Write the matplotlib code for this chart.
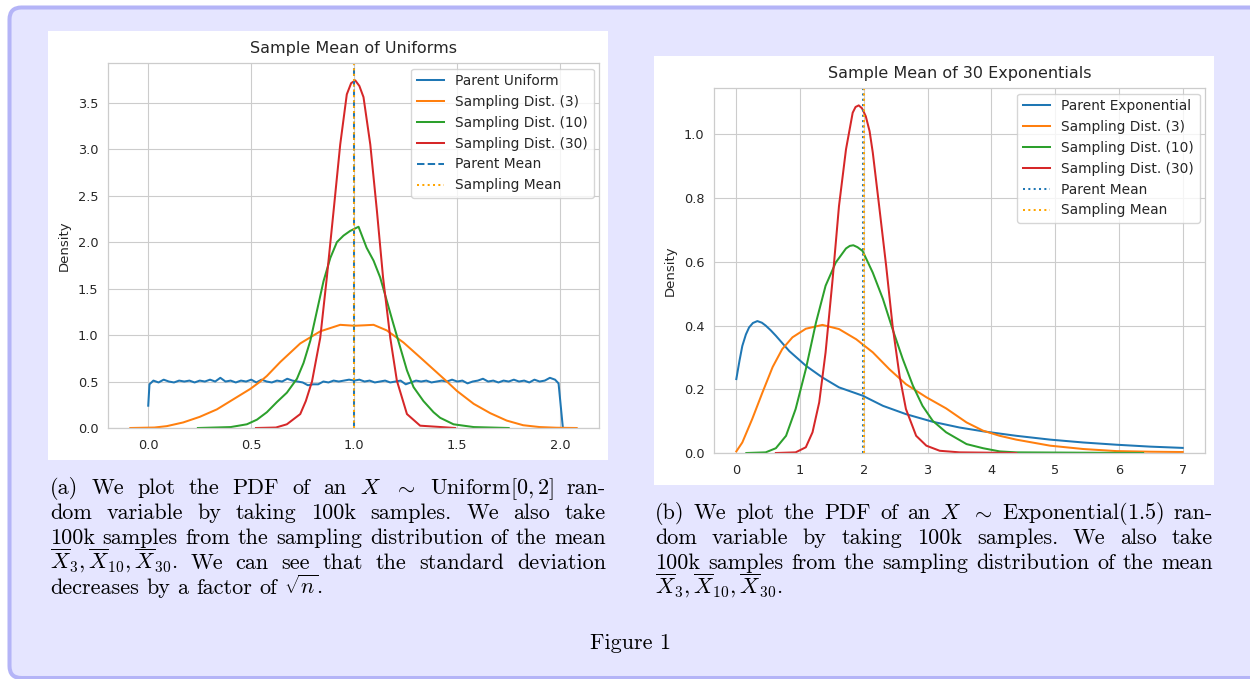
import matplotlib.pyplot as plt
from matplotlib.patches import FancyBboxPatch, Rectangle
from matplotlib.transforms import IdentityTransform

# ---- data ----
uni_parent_x = [0.0, 0.006, 0.025, 0.05, 0.075, 0.1, 0.125, 0.15, 0.175, 0.2,
                0.225, 0.25, 0.275, 0.3, 0.325, 0.35, 0.375, 0.4, 0.425, 0.45,
                0.475, 0.5, 0.525, 0.55, 0.575, 0.6, 0.625, 0.65, 0.675, 0.7,
                0.725, 0.75, 0.775, 0.8, 0.825, 0.85, 0.875, 0.9, 0.925, 0.95,
                0.975, 1.0, 1.025, 1.05, 1.075, 1.1, 1.125, 1.15, 1.175, 1.2,
                1.225, 1.25, 1.275, 1.3, 1.325, 1.35, 1.375, 1.4, 1.425, 1.45,
                1.475, 1.5, 1.525, 1.55, 1.575, 1.6, 1.625, 1.65, 1.675, 1.7,
                1.725, 1.75, 1.775, 1.8, 1.825, 1.85, 1.875, 1.9, 1.925, 1.95,
                1.975, 1.992, 2.013]
uni_parent_y = [0.24, 0.47, 0.51, 0.49, 0.52, 0.50, 0.49, 0.51, 0.50, 0.51,
                0.49, 0.51, 0.50, 0.52, 0.50, 0.54, 0.50, 0.51, 0.49, 0.51,
                0.50, 0.52, 0.49, 0.52, 0.50, 0.49, 0.51, 0.50, 0.53, 0.51,
                0.50, 0.49, 0.46, 0.47, 0.47, 0.50, 0.49, 0.51, 0.50, 0.51,
                0.52, 0.51, 0.52, 0.50, 0.51, 0.49, 0.50, 0.51, 0.49, 0.50,
                0.51, 0.47, 0.49, 0.51, 0.50, 0.51, 0.49, 0.50, 0.51, 0.50,
                0.52, 0.50, 0.51, 0.48, 0.50, 0.51, 0.53, 0.50, 0.51, 0.49,
                0.51, 0.50, 0.52, 0.50, 0.51, 0.49, 0.52, 0.50, 0.51, 0.54,
                0.52, 0.48, 0.0]

uni_n3_x = [-0.087, 0.03, 0.09, 0.17, 0.25, 0.333, 0.414, 0.495, 0.544, 0.576,
            0.641, 0.738, 0.835, 0.932, 1.0, 1.05, 1.094, 1.158, 1.239, 1.32,
            1.41, 1.45, 1.498, 1.58, 1.66, 1.74, 1.82, 1.90, 1.98, 2.08]
uni_n3_y = [0.0, 0.005, 0.02, 0.06, 0.12, 0.20, 0.31, 0.42, 0.50, 0.56,
            0.71, 0.91, 1.04, 1.11, 1.10, 1.105, 1.11, 1.05, 0.92, 0.76,
            0.58, 0.50, 0.40, 0.26, 0.16, 0.08, 0.03, 0.01, 0.003, 0.0]

uni_n10_x = [0.241, 0.40, 0.479, 0.528, 0.576, 0.625, 0.673, 0.722, 0.754, 0.787,
             0.819, 0.851, 0.884, 0.916, 0.948, 0.98, 1.021, 1.06, 1.094, 1.126,
             1.158, 1.19, 1.223, 1.256, 1.288, 1.336, 1.385, 1.417, 1.482, 1.58,
             1.75]
uni_n10_y = [0.0, 0.01, 0.04, 0.09, 0.17, 0.28, 0.38, 0.53, 0.70, 0.94,
             1.26, 1.58, 1.83, 2.0, 2.07, 2.12, 2.165, 1.94, 1.80, 1.62,
             1.37, 1.12, 0.87, 0.62, 0.44, 0.29, 0.17, 0.11, 0.04, 0.01,
             0.0]

uni_n30_x = [0.523, 0.62, 0.673, 0.738, 0.765, 0.795, 0.835, 0.867, 0.90, 0.932,
             0.964, 0.985, 1.005, 1.025, 1.045, 1.078, 1.11, 1.14, 1.175, 1.207,
             1.256, 1.32, 1.49]
uni_n30_y = [0.0, 0.005, 0.04, 0.15, 0.29, 0.50, 0.97, 1.62, 2.34, 3.05,
             3.59, 3.71, 3.74, 3.68, 3.56, 3.05, 2.34, 1.62, 0.97, 0.51,
             0.15, 0.025, 0.0]

exp_parent_x = [0.0, 0.05, 0.094, 0.15, 0.2, 0.26, 0.33, 0.40, 0.46, 0.54, 0.62,
                0.83, 1.09, 1.35, 1.61, 1.98, 2.30, 2.66, 3.08, 3.50, 3.87, 4.39,
                4.92, 5.44, 5.96, 6.49, 7.0]
exp_parent_y = [0.232, 0.29, 0.336, 0.372, 0.394, 0.408, 0.414, 0.409, 0.40, 0.385,
                0.368, 0.32, 0.274, 0.237, 0.206, 0.18, 0.148, 0.122, 0.098, 0.08,
                0.068, 0.054, 0.042, 0.033, 0.026, 0.02, 0.016]

exp_n3_x = [0.0, 0.094, 0.25, 0.41, 0.57, 0.72, 0.88, 1.09, 1.35, 1.61, 1.88,
            2.14, 2.40, 2.66, 2.98, 3.29, 3.61, 3.87, 4.13, 4.39, 4.92, 5.44,
            5.96, 6.49, 7.0]
exp_n3_y = [0.005, 0.033, 0.107, 0.19, 0.27, 0.326, 0.363, 0.39, 0.402, 0.389,
            0.357, 0.316, 0.263, 0.216, 0.175, 0.14, 0.096, 0.07, 0.054, 0.042,
            0.023, 0.0125, 0.006, 0.004, 0.003]

exp_n10_x = [0.157, 0.46, 0.62, 0.78, 0.93, 1.09, 1.25, 1.40, 1.56, 1.72, 1.78,
             1.835, 1.90, 1.98, 2.14, 2.30, 2.45, 2.61, 2.77, 2.92, 3.08, 3.29,
             3.61, 3.87, 4.13, 4.39, 6.38]
exp_n10_y = [0.0, 0.002, 0.015, 0.054, 0.138, 0.263, 0.41, 0.525, 0.598, 0.642,
             0.650, 0.652, 0.646, 0.634, 0.566, 0.483, 0.389, 0.295, 0.211, 0.148,
             0.101, 0.065, 0.028, 0.015, 0.005, 0.002, 0.0]

exp_n30_x = [0.62, 0.93, 1.09, 1.195, 1.30, 1.40, 1.51, 1.61, 1.72, 1.825, 1.87,
             1.92, 1.97, 2.03, 2.09, 2.14, 2.24, 2.35, 2.45, 2.56, 2.66, 2.82,
             2.98, 3.19, 3.50, 4.39]
exp_n30_y = [0.0, 0.002, 0.018, 0.065, 0.159, 0.316, 0.545, 0.775, 0.953, 1.068,
             1.086, 1.091, 1.082, 1.057, 1.01, 0.943, 0.775, 0.587, 0.40, 0.242,
             0.138, 0.054, 0.023, 0.007, 0.002, 0.0]

uni_means = [1.0, 1.0]      # parent, sampling
exp_means = [1.98, 2.0]

uni_xticks = [0.0, 0.5, 1.0, 1.5, 2.0]
uni_yticks = [0.0, 0.5, 1.0, 1.5, 2.0, 2.5, 3.0, 3.5]
exp_xticks = [0, 1, 2, 3, 4, 5, 6, 7]
exp_yticks = [0.0, 0.2, 0.4, 0.6, 0.8, 1.0]

cap_a = [r"(a) We plot the PDF of an $X$ $\sim$ Uniform$[0,2]$ ran-",
         r"dom variable by taking 100k samples.  We also take",
         r"100k samples from the sampling distribution of the mean",
         r"$\overline{X}_3,\overline{X}_{10},\overline{X}_{30}$.  We can see that the standard deviation",
         r"decreases by a factor of $\sqrt{n}$."]
cap_b = [r"(b) We plot the PDF of an $X$ $\sim$ Exponential$(1.5)$ ran-",
         r"dom variable by taking 100k samples.  We also take",
         r"100k samples from the sampling distribution of the mean",
         r"$\overline{X}_3,\overline{X}_{10},\overline{X}_{30}$."]

# ---- figure ----
plt.rcParams['mathtext.fontset'] = 'cm'
W, H = 1250, 679
fig = plt.figure(figsize=(W / 100, H / 100), dpi=100, facecolor='white')
ident = IdentityTransform()
renderer = fig.canvas.get_renderer()


def px_box(l, t, r, b):
    return [l / W, 1 - b / H, (r - l) / W, (b - t) / H]


outer = FancyBboxPatch((9.5, 1), 1300, H - 8.5, boxstyle='round,pad=0,rounding_size=12',
                       transform=ident, facecolor='#e5e5ff', edgecolor='#b4b4f7',
                       linewidth=2.9, zorder=-2)
fig.add_artist(outer)
for l, t, r, b in [(48, 31, 608, 460), (654, 56, 1214, 485)]:
    fig.add_artist(Rectangle((l, H - b), r - l, b - t, transform=ident,
                             facecolor='white', edgecolor='none', zorder=-1))

C = ['#1f77b4', '#ff7f0e', '#2ca02c', '#d62728']
dark = '#262626'


def style(ax, title, xticks, yticks):
    ax.set_facecolor('white')
    ax.grid(True, color='#cccccc', linewidth=0.8)
    ax.set_axisbelow(True)
    for s in ax.spines.values():
        s.set_color('#cccccc')
        s.set_linewidth(0.9)
    ax.set_xticks(xticks)
    ax.set_yticks(yticks)
    ax.tick_params(axis='x', length=0, pad=8, labelsize=9.3, labelcolor=dark)
    ax.tick_params(axis='y', length=0, pad=7, labelsize=9.3, labelcolor=dark)
    ax.set_title(title, fontsize=11.5, color=dark, pad=7)
    ax.set_ylabel('Density', fontsize=9.5, color=dark, labelpad=5)
    ax.set_ylim(bottom=0)


lw = 1.45
ax1 = fig.add_axes(px_box(108, 63, 599, 428))
ax1.plot(uni_parent_x, uni_parent_y, color=C[0], lw=lw, label='Parent Uniform')
ax1.plot(uni_n3_x, uni_n3_y, color=C[1], lw=lw, label='Sampling Dist. (3)')
ax1.plot(uni_n10_x, uni_n10_y, color=C[2], lw=lw, label='Sampling Dist. (10)')
ax1.plot(uni_n30_x, uni_n30_y, color=C[3], lw=lw, label='Sampling Dist. (30)')
ax1.axvline(uni_means[0], color=C[0], ls='--', lw=lw, label='Parent Mean')
ax1.axvline(uni_means[1], color='orange', ls=':', lw=lw, label='Sampling Mean')
style(ax1, 'Sample Mean of Uniforms', uni_xticks, uni_yticks)

ax2 = fig.add_axes(px_box(714, 88, 1205, 453))
ax2.plot(exp_parent_x, exp_parent_y, color=C[0], lw=lw, label='Parent Exponential')
ax2.plot(exp_n3_x, exp_n3_y, color=C[1], lw=lw, label='Sampling Dist. (3)')
ax2.plot(exp_n10_x, exp_n10_y, color=C[2], lw=lw, label='Sampling Dist. (10)')
ax2.plot(exp_n30_x, exp_n30_y, color=C[3], lw=lw, label='Sampling Dist. (30)')
ax2.axvline(exp_means[0], color=C[0], ls=':', lw=lw, label='Parent Mean')
ax2.axvline(exp_means[1], color='orange', ls=':', lw=lw, label='Sampling Mean')
style(ax2, 'Sample Mean of 30 Exponentials', exp_xticks, exp_yticks)

for ax in (ax1, ax2):
    leg = ax.legend(loc='upper right', fontsize=9.9, framealpha=0.8,
                    edgecolor='#cccccc', fancybox=True, borderaxespad=0.4)
    for t in leg.get_texts():
        t.set_color(dark)

# ---- captions (justified like LaTeX) ----
# size the caption font so that the full line "100k samples ... mean"
# fills the column with TeX-like interword spaces (1/3 em)
probe_words = cap_a[2].split()
probes = [fig.text(0, 0, w, fontsize=10, family='cmr10', transform=ident) for w in probe_words]
ww = sum(p.get_window_extent(renderer).width for p in probes)
for p in probes:
    p.remove()
sp10 = 10 * 100 / 72 * 0.333
CAP_FS = 10 * 556 / (ww + sp10 * (len(probe_words) - 1))
space_w = CAP_FS * 100 / 72 * 0.333


def put_line(line, x0, x1, base, justify):
    words = line.split()
    arts = [fig.text(0, 0, w, transform=ident, fontsize=CAP_FS, family='cmr10',
                     va='baseline', ha='left', color='black') for w in words]
    widths = [a.get_window_extent(renderer).width for a in arts]
    gap = (x1 - x0 - sum(widths)) / (len(words) - 1) if justify else space_w
    x = x0
    for a, w in zip(arts, widths):
        a.set_position((x, H - base))
        x += w + gap


for i, line in enumerate(cap_a):
    put_line(line, 50, 606, 494 + 25 * i, i < len(cap_a) - 1)
for i, line in enumerate(cap_b):
    put_line(line, 655, 1213, 519 + 25 * i, i < len(cap_b) - 1)

fig.text(630, H - 649, 'Figure 1', transform=ident, fontsize=CAP_FS, family='cmr10',
         ha='center', va='baseline')

fig.savefig('out.png', dpi=100, facecolor='white')
